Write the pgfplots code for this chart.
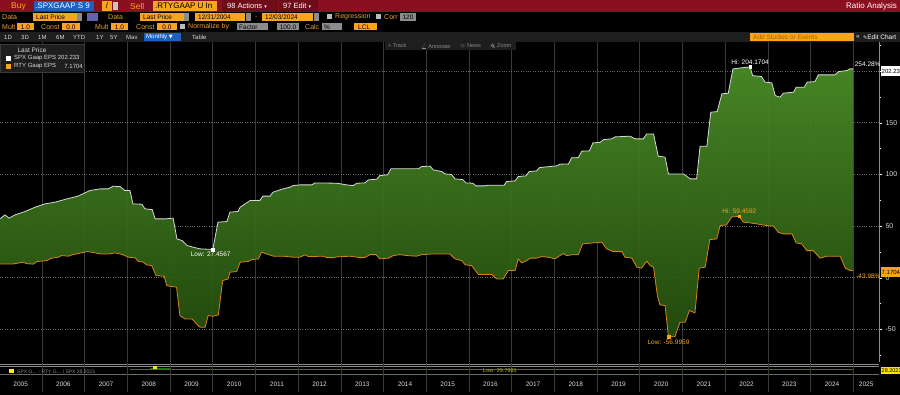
\documentclass[border=0pt]{standalone}
\usepackage{pgfplots}
\usepackage{pgfplotstable}
\pgfplotsset{compat=1.18}
\usepackage{fontspec}
\setmainfont{Liberation Sans}
\newfontfamily\dejavu{DejaVu Sans}
\definecolor{bbred}{HTML}{8A1020}
\definecolor{bbred2}{HTML}{6E0C18}
\definecolor{bbamber}{HTML}{F7A51C}
\definecolor{bbtxt}{HTML}{E9A03A}
\definecolor{bbblue}{HTML}{1F5FBF}
\definecolor{bbgray}{HTML}{8C8C8C}
\definecolor{gridv}{HTML}{3A3A3A}
\definecolor{gridh}{HTML}{6A6A6A}
\definecolor{fillTop}{HTML}{4C8E28}
\definecolor{fillBot}{HTML}{254F0E}
\definecolor{spxline}{HTML}{D8D8D8}
\definecolor{rtyline}{HTML}{D9831A}
\definecolor{bar4}{HTML}{1E1E1E}

\pgfplotstableread{
t v
2005.02 57.1
2005.13 61.0
2005.23 57.8
2005.37 61.0
2005.60 64.2
2005.84 68.4
2006.07 71.6
2006.30 73.2
2006.58 76.4
2006.84 79.1
2007.12 84.5
2007.36 86.1
2007.55 86.1
2007.66 88.7
2007.83 88.3
2007.94 84.5
2008.06 84.5
2008.13 71.6
2008.34 71.3
2008.41 66.8
2008.58 66.1
2008.65 57.1
2008.88 57.1
2009.07 57.8
2009.16 37.7
2009.28 36.1
2009.40 31.3
2009.54 29.7
2009.70 28.1
2010.00 27.5
2010.12 53.9
2010.33 54.5
2010.40 63.6
2010.59 64.2
2010.64 68.4
2010.87 74.8
2011.10 74.8
2011.17 79.1
2011.34 79.1
2011.41 82.9
2011.64 86.1
2011.81 87.8
2011.88 89.3
2012.04 90.0
2012.32 90.0
2012.39 91.9
2012.90 91.6
2013.13 90.0
2013.29 89.3
2013.37 91.6
2013.56 91.9
2013.64 94.8
2013.84 95.5
2013.91 99.0
2014.09 99.7
2014.17 105.5
2014.81 105.5
2014.89 107.7
2015.09 108.1
2015.16 104.5
2015.36 102.9
2015.44 100.6
2015.59 100.0
2015.67 95.8
2015.85 95.1
2015.93 91.9
2016.09 91.6
2016.16 89.0
2016.37 89.0
2016.45 89.7
2016.82 89.7
2016.88 93.2
2017.08 93.9
2017.15 98.0
2017.33 98.7
2017.41 102.9
2017.58 103.5
2017.65 106.7
2018.05 108.4
2018.13 110.0
2018.33 110.3
2018.40 116.1
2018.56 116.4
2018.64 122.6
2018.82 122.9
2018.90 130.6
2019.07 131.1
2019.15 133.8
2019.34 134.5
2019.42 136.4
2019.77 137.1
2019.89 134.5
2020.08 134.5
2020.16 139.3
2020.32 139.3
2020.43 117.8
2020.59 116.8
2020.67 100.6
2021.02 100.6
2021.18 95.8
2021.33 95.8
2021.41 127.4
2021.57 127.4
2021.66 160.3
2021.81 160.9
2021.92 178.0
2022.07 178.7
2022.18 202.2
2022.58 204.2
2022.64 195.7
2022.85 194.8
2022.93 189.4
2023.09 188.7
2023.17 176.4
2023.28 174.8
2023.36 178.7
2023.60 179.7
2023.66 184.5
2023.85 184.5
2023.92 189.4
2024.10 189.9
2024.18 196.4
2024.57 196.4
2024.65 199.6
2024.85 200.6
2024.92 202.2
2025.00 202.2
}\spx

\pgfplotstableread{
t v
2005.02 13.5
2005.33 13.5
2005.56 15.2
2005.64 13.8
2005.80 13.3
2005.88 15.8
2006.11 16.7
2006.23 19.1
2006.38 20.0
2006.46 21.6
2006.62 21.0
2006.70 22.3
2006.89 23.9
2007.05 25.4
2007.16 24.9
2007.36 23.2
2007.59 23.2
2007.71 24.2
2007.83 23.2
2007.94 21.6
2008.02 20.0
2008.18 19.4
2008.25 16.2
2008.37 15.2
2008.45 12.6
2008.57 11.9
2008.67 2.2
2008.86 1.6
2008.92 -7.5
2009.15 -9.0
2009.23 -36.5
2009.35 -39.7
2009.51 -39.7
2009.62 -44.5
2009.70 -47.7
2009.82 -47.7
2009.89 -36.5
2010.01 -37.1
2010.13 -35.8
2010.23 -2.6
2010.36 -1.0
2010.40 5.5
2010.56 6.1
2010.64 15.2
2010.83 15.8
2010.91 17.7
2011.07 18.4
2011.14 24.9
2011.26 23.2
2011.42 21.0
2011.65 21.0
2011.88 20.0
2012.04 20.0
2012.16 22.3
2012.24 20.6
2012.59 21.0
2012.67 19.6
2012.82 19.6
2012.90 20.3
2013.21 21.0
2013.45 19.6
2013.56 19.6
2013.68 22.5
2013.82 22.5
2013.91 18.4
2014.11 19.1
2014.23 21.6
2014.38 22.5
2014.54 21.6
2014.77 21.0
2014.89 22.5
2015.16 23.2
2015.55 23.2
2015.67 18.4
2015.83 16.7
2015.91 12.6
2016.06 11.9
2016.22 3.2
2016.53 3.2
2016.65 -1.0
2016.80 -1.0
2016.92 7.1
2017.08 7.1
2017.15 18.4
2017.23 14.5
2017.35 16.7
2017.43 19.1
2017.58 19.1
2017.70 20.6
2017.86 20.0
2018.01 18.4
2018.13 21.6
2018.21 23.5
2018.29 21.6
2018.40 22.3
2018.56 22.3
2018.66 32.9
2018.91 33.9
2019.11 34.5
2019.22 28.1
2019.38 25.4
2019.58 25.4
2019.65 20.0
2019.81 19.1
2019.93 10.4
2020.04 9.4
2020.16 16.2
2020.24 11.9
2020.32 10.4
2020.41 -17.1
2020.47 -26.1
2020.59 -26.8
2020.67 -57.0
2020.82 -57.0
2020.94 -42.9
2021.06 -42.9
2021.16 -31.6
2021.29 -33.9
2021.39 9.4
2021.53 10.4
2021.64 37.1
2021.80 37.7
2021.88 50.6
2022.03 51.3
2022.15 59.0
2022.33 59.5
2022.42 53.9
2022.58 53.2
2022.74 52.2
2022.97 50.6
2023.13 50.0
2023.24 44.2
2023.36 42.6
2023.56 42.6
2023.66 33.9
2023.79 32.9
2023.91 26.4
2024.06 26.4
2024.22 19.1
2024.38 21.0
2024.69 21.0
2024.81 9.4
2024.92 7.2
2025.00 7.2
}\rty

% polygon for the band between the two series: RTY reversed, then SPX forward
\pgfplotstablesort[sort key={t},sort cmp={float >}]{\band}{\rty}
\pgfplotstablevertcat{\band}{\spx}

\begin{document}
\begin{tikzpicture}[x=1pt,y=1pt,font=\fontsize{8}{9}\selectfont]
\fill[black] (0,0) rectangle (900,395);

\begin{axis}[
  at={(0,32)}, anchor=south west,
  width=879pt, height=320pt, scale only axis,
  xmin=2005.016, xmax=2025.60,
  ymin=-81.3, ymax=228.3,
  axis background/.style={fill=black},
  axis x line*=bottom, axis y line*=right,
  x axis line style={draw=none},
  y axis line style={draw=bbgray, line width=0.6pt},
  xtick={2005.5,2006.5,2007.5,2008.5,2009.5,2010.5,2011.5,2012.5,2013.5,2014.5,2015.5,2016.5,2017.5,2018.5,2019.5,2020.5,2021.5,2022.5,2023.5,2024.5,2025.3},
  xticklabels={2005,2006,2007,2008,2009,2010,2011,2012,2013,2014,2015,2016,2017,2018,2019,2020,2021,2022,2023,2024,2025},
  minor xtick={2006,2007,2008,2009,2010,2011,2012,2013,2014,2015,2016,2017,2018,2019,2020,2021,2022,2023,2024,2025},
  xmajorgrids=false, xminorgrids=true, ymajorgrids=true,
  major grid style={gridh, dotted, line width=0.8pt},
  minor grid style={gridv, line width=0.8pt},
  ytick={-50,0,50,100,150,200},
  yticklabels={-50,0,50,100,150,},
  minor ytick={-75,-25,25,75,125,175,225},
  tick align=outside,
  major tick length=3pt, minor tick length=2pt,
  xtick style={draw=none},
  ytick style={draw=white, line width=0.5pt},
  yticklabel style={font=\fontsize{7}{8}\selectfont, text=white!85!black, xshift=0pt},
  xticklabel style={font=\fontsize{6.5}{7}\selectfont, text=white!85!black, anchor=center, yshift=-19pt},
  clip=false,
]
\addplot[top color=fillTop, bottom color=fillBot, draw=none, opacity=0.93, forget plot] table[x=t,y=v] {\band};
\addplot[draw=spxline, line width=0.8pt] table[x=t,y=v] {\spx};
\addplot[draw=rtyline, line width=0.8pt] table[x=t,y=v] {\rty};
\addplot[only marks, mark=square*, mark size=1.3pt, white] coordinates {(2022.58,204.2) (2010.00,27.5)};
\addplot[only marks, mark=square*, mark size=1.3pt, bbamber] coordinates {(2022.33,59.5) (2020.67,-57.0)};
\node[anchor=south, text=white, font=\fontsize{6.5}{7}\selectfont, inner sep=1pt] at (axis cs:2022.58,205.5) {Hi: 204.1704};
\node[anchor=north, text=white, font=\fontsize{6.5}{7}\selectfont, inner sep=1pt] at (axis cs:2009.95,26.0) {Low: 27.4567};
\node[anchor=south, text=bbamber, font=\fontsize{6.5}{7}\selectfont, inner sep=1pt] at (axis cs:2022.33,61.0) {Hi: 59.4592};
\node[anchor=north, text=bbamber, font=\fontsize{6.5}{7}\selectfont, inner sep=1pt] at (axis cs:2020.67,-58.5) {Low: -56.9959};
\node[anchor=east, text=white, font=\fontsize{6.5}{7}\selectfont, inner sep=0pt] at (axis cs:2025.64,206.5) {254.28\%};
\node[anchor=east, text=bbamber, font=\fontsize{6.5}{7}\selectfont, inner sep=0pt] at (axis cs:2025.64,2.0) {-43.98\%};
\end{axis}

% right value boxes
\fill[white] (880.5,319) rectangle (900,329);
\node[anchor=west, inner sep=0.5pt, text=black, font=\fontsize{6}{7}\selectfont] at (881,324) {202.23};
\fill[bbamber] (880.5,118) rectangle (900,128);
\node[anchor=west, inner sep=0.5pt, text=black, font=\fontsize{6}{7}\selectfont] at (881,123) {7.1704};

% lower mini panel
\draw[bbgray, line width=0.8pt] (0,31) -- (879,31);
\draw[bbgray, line width=0.6pt] (0,29) -- (879,29);
\draw[olive!60!black, line width=1.2pt] (130,25.5) -- (853,25.5);
\draw[green!50!black, line width=1.2pt] (150,26.5) -- (170,26.5);
\fill[yellow!90!orange] (153,26) rectangle (157,29);
\draw[gridh, line width=0.5pt] (0,20.5) -- (879,20.5);
\foreach \k in {0,...,19} {\draw[gridv, line width=0.8pt] ({42+42.7*\k},3) -- ({42+42.7*\k},32);}
\fill[yellow!85!orange] (880.5,21) rectangle (900,28);
\node[anchor=west, inner sep=0.5pt, text=black, font=\fontsize{5.5}{6}\selectfont] at (881,24.5) {28.2023};
\node[anchor=west, inner sep=1pt, text=yellow!70!black, font=\fontsize{5.5}{6}\selectfont] at (482,24.5) {Low: 29.7991};
\fill[yellow] (9,21.5) rectangle (14,25.5);
\node[anchor=west, inner sep=1pt, text=bbgray, font=\fontsize{5}{6}\selectfont] at (16,23) {SPX G... - RTY G... / SPX 28.2023};

% legend box
\fill[bar4] (0,323) rectangle (84,351);
\draw[gridv] (0,323) rectangle (84,351);
\node[text=white!85!black, font=\fontsize{6.5}{7}\selectfont, inner sep=1pt] at (32,345) {Last Price};
\fill[white] (6,334) rectangle (11,339);
\node[anchor=west, text=white!85!black, font=\fontsize{6}{7}\selectfont, inner sep=1pt] at (13,336.5) {SPX Gaap EPS 202.233};
\fill[bbamber] (6,326) rectangle (11,331);
\node[anchor=west, text=white!85!black, font=\fontsize{6}{7}\selectfont, inner sep=1pt] at (13,328.5) {RTY Gaap EPS};
\node[anchor=east, text=white!85!black, font=\fontsize{6}{7}\selectfont, inner sep=1pt] at (84,328.5) {7.1704};

% chart toolbar
\fill[bar4] (385,345) rectangle (516,353);
\node[anchor=west, text=bbgray, font=\fontsize{5.5}{6}\selectfont, inner sep=1pt] at (387,349) {+ Track};
\node[anchor=west, text=bbgray, font=\fontsize{5.5}{6}\selectfont, inner sep=1pt] at (420,349) {$\angle$ Annotate};
\node[anchor=west, text=bbgray, font=\fontsize{5.5}{6}\selectfont, inner sep=1pt] at (459,349) {$\equiv$ News};
\draw[bbgray, line width=0.5pt] (492.5,349.5) circle (1.5) (493.6,348.4) -- (495,347);
\node[anchor=west, text=bbgray, font=\fontsize{5.5}{6}\selectfont, inner sep=1pt] at (496,349) {Zoom};

% header row 4
\fill[bar4] (0,353) rectangle (900,363);
\foreach \lab/\xx in {1D/3,3D/20,1M/37,6M/55,YTD/72,1Y/95,5Y/109,Max/125} {\node[anchor=west, text=white!85!black, font=\fontsize{6}{7}\selectfont, inner sep=1pt] at (\xx,358) {\lab};}
\fill[bbblue] (144,354) rectangle (181,362);
\node[anchor=west, text=white, font=\fontsize{6}{7}\selectfont, inner sep=1pt] at (145,358) {Monthly {\dejavu\fontsize{5}{6}\selectfont ▼}};
\node[anchor=west, text=white!85!black, font=\fontsize{6}{7}\selectfont, inner sep=1pt] at (191,358) {Table};
\fill[bbamber] (750,354) rectangle (854,362);
\node[anchor=west, text=orange!70!black, font=\fontsize{6.5}{7}\selectfont, inner sep=1pt] at (752,358) {Add Studies or Events};
\node[anchor=west, text=white, font=\fontsize{6.5}{7}\selectfont, inner sep=1pt] at (855,358) {«};
\node[anchor=west, text=white, font=\fontsize{6.5}{7}\selectfont, inner sep=1pt] at (862,358) {{\dejavu\fontsize{5}{6}\selectfont ✎}Edit Chart};

% header row 3
\fill[black] (0,363) rectangle (900,373);
\begin{scope}[every node/.style={font=\fontsize{7}{8}\selectfont}]
\node[anchor=west, text=bbtxt, inner sep=1pt] at (1,368) {Mult};
\fill[bbamber] (17,364.5) rectangle (34,371.5); \node[text=black, font=\fontsize{6.5}{7}\selectfont, inner sep=1pt] at (25.5,368) {1.0};
\node[anchor=west, text=bbtxt, inner sep=1pt] at (40,368) {Const};
\fill[bbamber] (62,364.5) rectangle (80,371.5); \node[text=black, font=\fontsize{6.5}{7}\selectfont, inner sep=1pt] at (71,368) {0.0};
\node[anchor=west, text=bbtxt, inner sep=1pt] at (94,368) {Mult};
\fill[bbamber] (111,364.5) rectangle (128,371.5); \node[text=black, font=\fontsize{6.5}{7}\selectfont, inner sep=1pt] at (119.5,368) {1.0};
\node[anchor=west, text=bbtxt, inner sep=1pt] at (135,368) {Const};
\fill[bbamber] (157,364.5) rectangle (177,371.5); \node[text=black, font=\fontsize{6.5}{7}\selectfont, inner sep=1pt] at (167,368) {0.0};
\fill[bbgray!60] (180,365.5) rectangle (185,370.5);
\node[anchor=west, text=bbtxt, inner sep=1pt] at (187,368) {Normalize by};
\fill[bbgray] (237,364.5) rectangle (268,371.5); \node[anchor=west, text=black, font=\fontsize{6.5}{7}\selectfont, inner sep=1pt] at (238,368) {Factor};
\fill[bbgray] (277,364.5) rectangle (299,371.5); \node[text=black, font=\fontsize{6.5}{7}\selectfont, inner sep=1pt] at (288,368) {100.0};
\node[anchor=west, text=bbtxt, inner sep=1pt] at (304,368) {Calc};
\fill[bbgray] (322,364.5) rectangle (342,371.5); \node[anchor=west, text=black, font=\fontsize{6.5}{7}\selectfont, inner sep=1pt] at (323,368) {\%};
\fill[bbamber] (354,364.5) rectangle (377,371.5); \node[anchor=west, text=black, font=\fontsize{6.5}{7}\selectfont, inner sep=1pt] at (357,368) {LCL};
\end{scope}

% header row 2
\fill[black] (0,373) rectangle (900,383);
\begin{scope}[every node/.style={font=\fontsize{7}{8}\selectfont}]
\node[anchor=west, text=bbtxt, inner sep=1pt] at (1,378) {Data};
\fill[bbamber] (33,374) rectangle (77,382); \node[anchor=west, text=black, font=\fontsize{6.5}{7}\selectfont, inner sep=1pt] at (35,378) {Last Price};
\fill[bbgray] (77,374) rectangle (82,382);
\fill[bbgray!70!blue] (87,374) rectangle (98,382);
\node[anchor=west, text=bbtxt, inner sep=1pt] at (107,378) {Data};
\fill[bbamber] (140,374) rectangle (184,382); \node[anchor=west, text=black, font=\fontsize{6.5}{7}\selectfont, inner sep=1pt] at (142,378) {Last Price};
\fill[bbgray] (184,374) rectangle (189,382);
\fill[bbamber] (195,374) rectangle (245,382); \node[anchor=west, text=black, font=\fontsize{6.5}{7}\selectfont, inner sep=1pt] at (197,378) {12/31/2004};
\fill[bbgray] (246,374) rectangle (251,382);
\node[anchor=west, text=bbtxt, inner sep=1pt] at (254,378) {-};
\fill[bbamber] (262,374) rectangle (313,382); \node[anchor=west, text=black, font=\fontsize{6.5}{7}\selectfont, inner sep=1pt] at (264,378) {12/03/2024};
\fill[bbgray] (314,374) rectangle (319,382);
\fill[bbgray!60] (327,375.5) rectangle (332,380.5);
\node[anchor=west, text=bbtxt, inner sep=1pt] at (334,378) {Regression};
\fill[bbgray!60] (376,375.5) rectangle (381,380.5);
\node[anchor=west, text=bbtxt, inner sep=1pt] at (383,378) {Corr};
\fill[bbgray] (400,374) rectangle (416,382); \node[text=black, font=\fontsize{6.5}{7}\selectfont, inner sep=1pt] at (408,378) {120};
\end{scope}

% header row 1
\fill[bbred] (0,383) rectangle (900,395);
\node[anchor=west, text=bbamber, font=\fontsize{8.5}{9}\selectfont, inner sep=1pt] at (10,389) {Buy};
\fill[bbblue] (34,384) rectangle (94,394); \node[anchor=west, text=white, font=\fontsize{8}{9}\selectfont, inner sep=1pt] at (34,389) {.SPXGAAP S 9};
\fill[bbamber] (102,384) rectangle (112,394); \node[text=black, font=\fontsize{8}{9}\selectfont, inner sep=1pt] at (107,389) {/};
\fill[bbgray!50] (113,385) rectangle (118,393);
\node[anchor=west, text=bbamber, font=\fontsize{8.5}{9}\selectfont, inner sep=1pt] at (129,389) {Sell};
\fill[bbamber] (153,384) rectangle (217,394); \node[anchor=west, text=black, font=\fontsize{8}{9}\selectfont, inner sep=1pt] at (154,389) {.RTYGAAP U In};
\fill[bbred2] (222,383) rectangle (278,395); \node[anchor=west, text=white, font=\fontsize{7.5}{9}\selectfont, inner sep=1pt] at (226,389) {98 Actions {\dejavu\fontsize{5}{6}\selectfont ▾}};
\fill[bbred2] (279,383) rectangle (318,395); \node[anchor=west, text=white, font=\fontsize{7.5}{9}\selectfont, inner sep=1pt] at (282,389) {97 Edit {\dejavu\fontsize{5}{6}\selectfont ▾}};
\node[anchor=east, text=white, font=\fontsize{8}{9}\selectfont, inner sep=1pt] at (898,389) {Ratio Analysis};

\pgfresetboundingbox
\useasboundingbox (0,0) rectangle (900,395);
\end{tikzpicture}
\end{document}
